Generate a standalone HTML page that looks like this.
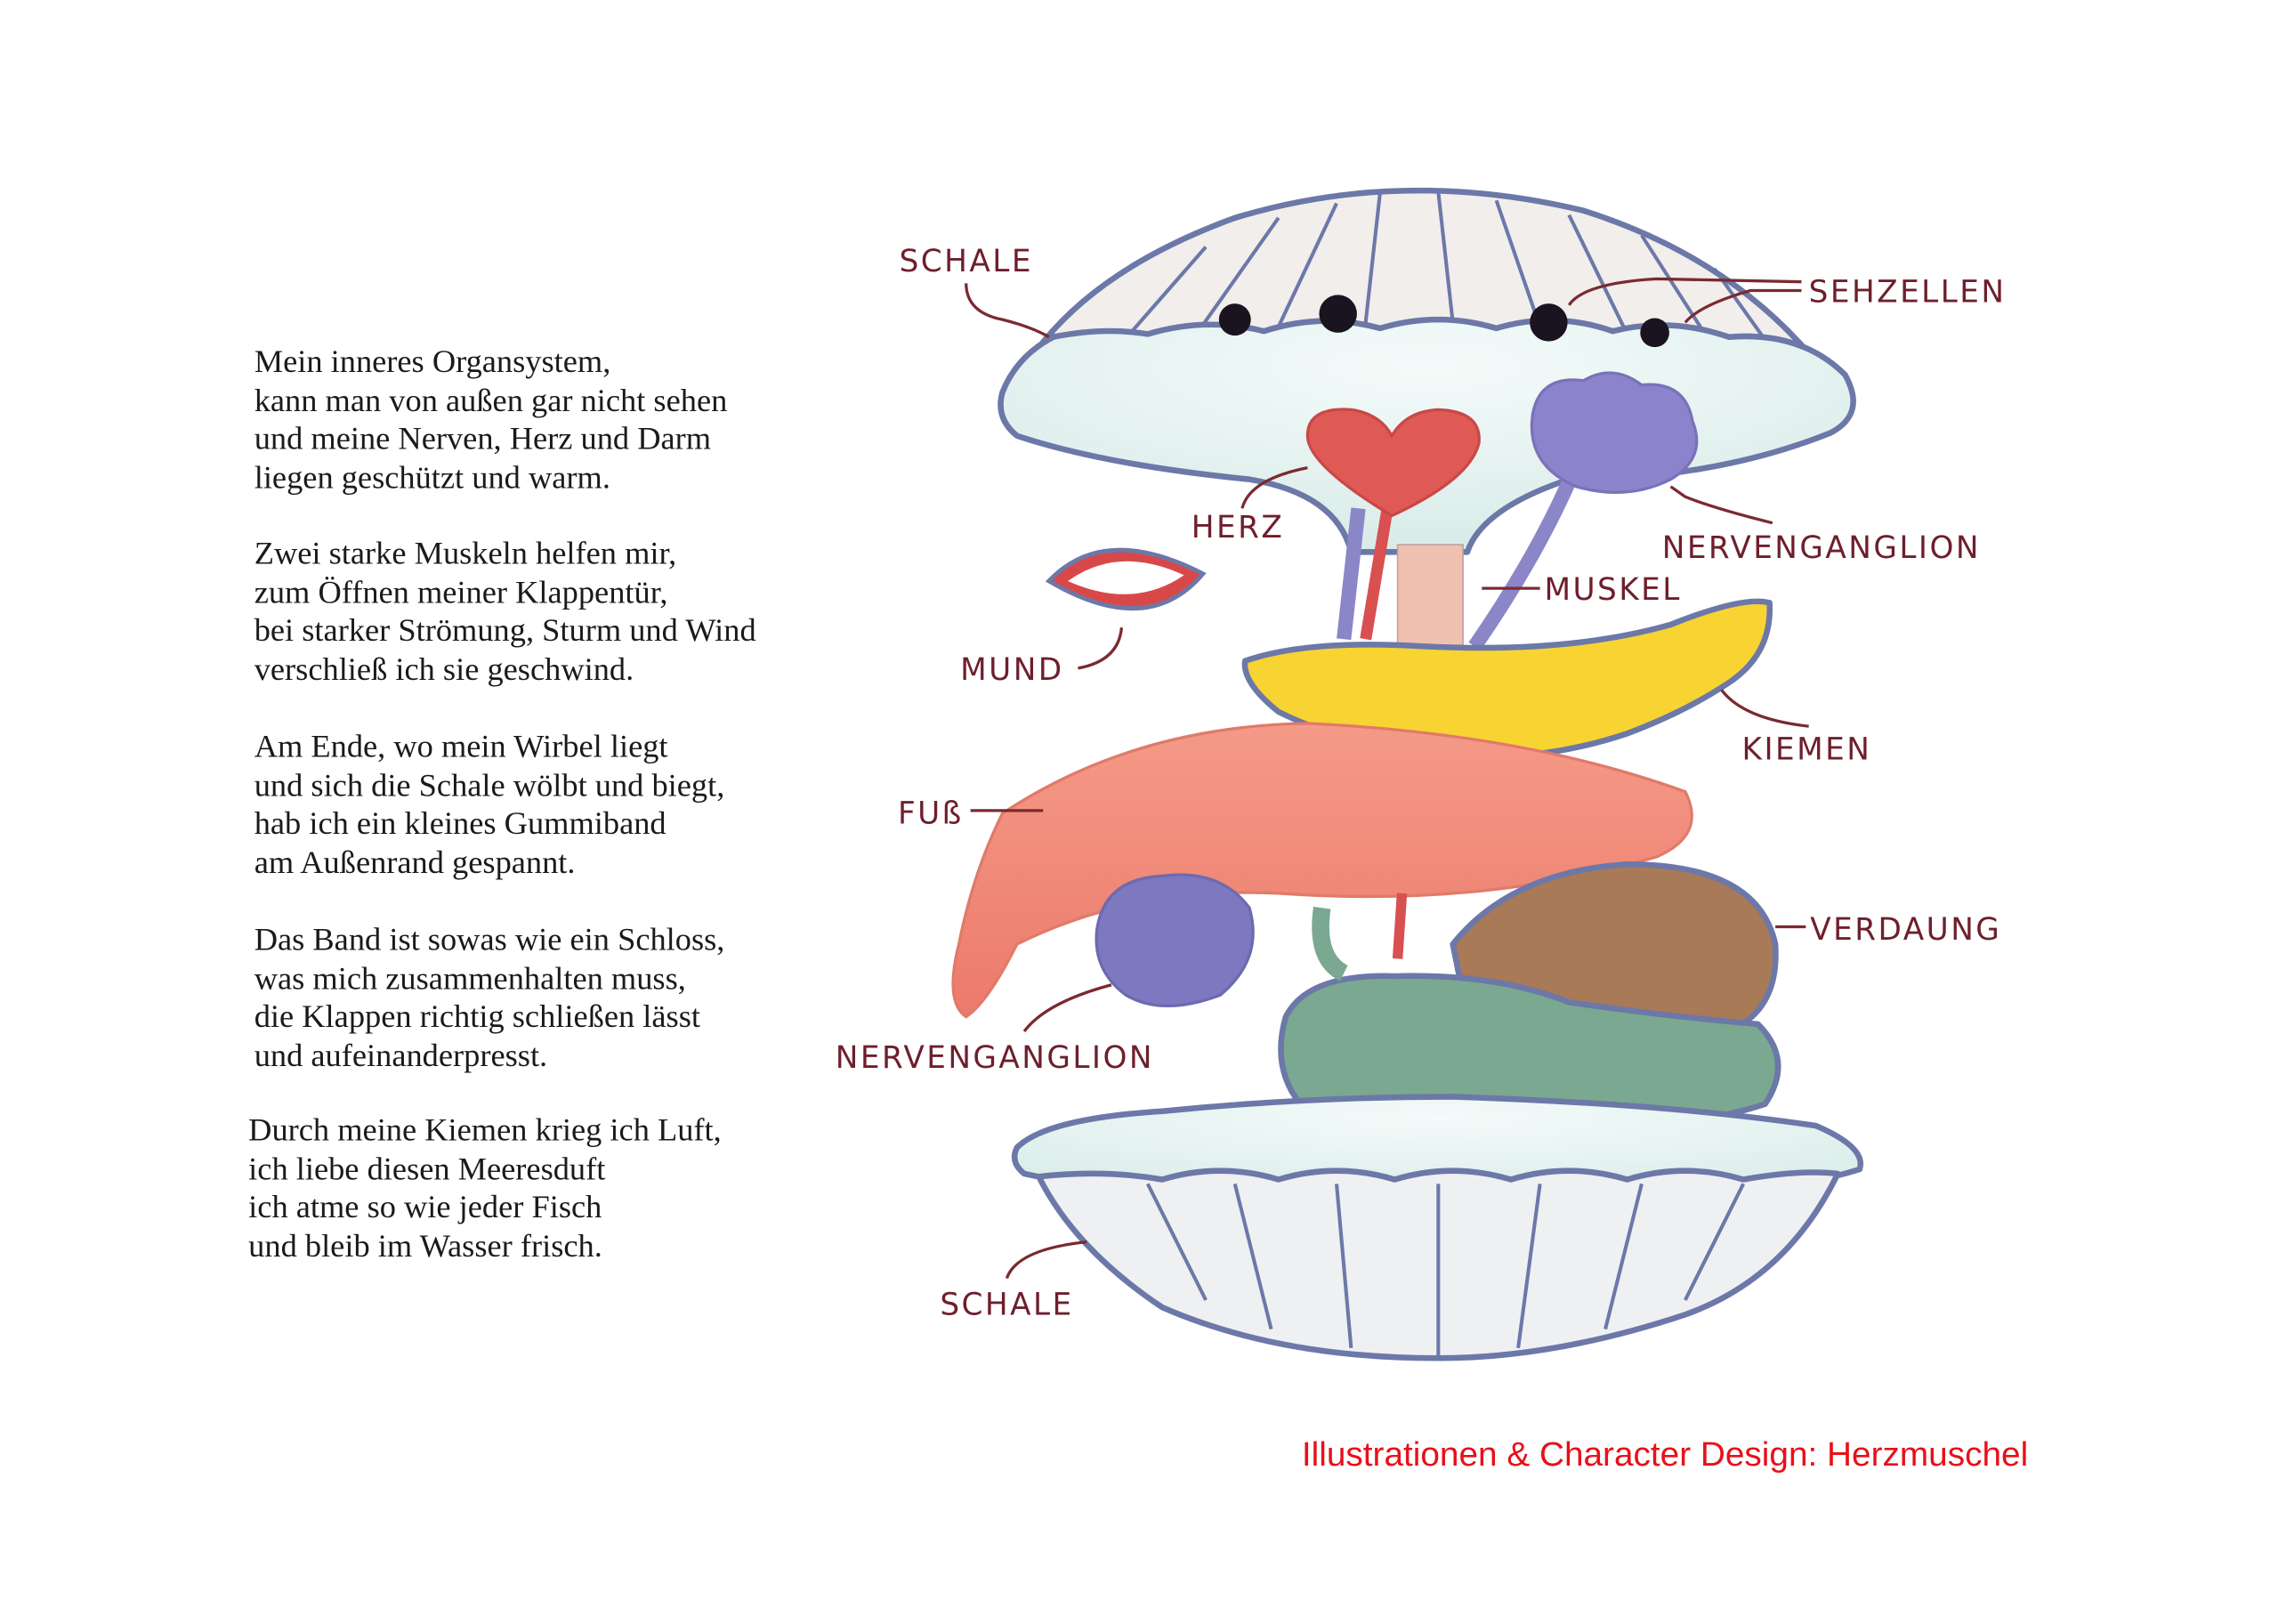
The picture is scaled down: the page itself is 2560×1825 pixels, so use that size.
<!DOCTYPE html>
<html><head><meta charset="utf-8"><style>
html,body{margin:0;padding:0;background:#fff;}
svg{display:block;width:2560px;height:1825px;}
.p{font-family:"Liberation Serif",serif;font-size:22.3px;fill:#1a1a1a;}
.l{font-family:"DejaVu Sans","Liberation Sans",sans-serif;font-size:21px;fill:#6e1f2c;letter-spacing:1.5px;}
.ln{fill:none;stroke:#7a2a30;stroke-width:2;}
.o{stroke:#6c78a8;stroke-width:4;stroke-linejoin:round;}
</style></head><body>
<svg viewBox="0 0 1568 1118" preserveAspectRatio="none" xmlns="http://www.w3.org/2000/svg">
<defs>
<radialGradient id="sh" cx="50%" cy="20%" r="80%"><stop offset="0" stop-color="#f4fbfa"/><stop offset="1" stop-color="#d8ebe8"/></radialGradient>
<linearGradient id="ft" x1="0" y1="0" x2="0" y2="1"><stop offset="0" stop-color="#f59a88"/><stop offset="1" stop-color="#ec7a6a"/></linearGradient>
</defs>
<rect width="1568" height="1118" fill="#fff"/>
<g class="p">
<text x="175" y="256">Mein inneres Organsystem,</text>
<text x="175" y="283">kann man von außen gar nicht sehen</text>
<text x="175" y="309">und meine Nerven, Herz und Darm</text>
<text x="175" y="336">liegen geschützt und warm.</text>
<text x="175" y="388">Zwei starke Muskeln helfen mir,</text>
<text x="175" y="415">zum Öffnen meiner Klappentür,</text>
<text x="175" y="441">bei starker Strömung, Sturm und Wind</text>
<text x="175" y="468">verschließ ich sie geschwind.</text>
<text x="175" y="521">Am Ende, wo mein Wirbel liegt</text>
<text x="175" y="548">und sich die Schale wölbt und biegt,</text>
<text x="175" y="574">hab ich ein kleines Gummiband</text>
<text x="175" y="601">am Außenrand gespannt.</text>
<text x="175" y="654">Das Band ist sowas wie ein Schloss,</text>
<text x="175" y="681">was mich zusammenhalten muss,</text>
<text x="175" y="707">die Klappen richtig schließen lässt</text>
<text x="175" y="734">und aufeinanderpresst.</text>
<text x="171" y="785">Durch meine Kiemen krieg ich Luft,</text>
<text x="171" y="812">ich liebe diesen Meeresduft</text>
<text x="171" y="838">ich atme so wie jeder Fisch</text>
<text x="171" y="865">und bleib im Wasser frisch.</text>
</g>
<text x="896" y="1009" font-family="Liberation Sans,sans-serif" font-size="23" fill="#e8101a" textLength="500" lengthAdjust="spacingAndGlyphs">Illustrationen &amp; Character Design: Herzmuschel</text>

<!-- top shell -->
<path class="o" fill="#f1eeec" d="M700,262 Q740,190 850,150 Q965,115 1090,145 Q1200,180 1260,262 Z"/>
<g stroke="#6c78a8" stroke-width="2.5" fill="none">
<path d="M760,250 L830,170"/><path d="M820,235 L880,150"/><path d="M880,225 L920,140"/><path d="M940,222 L950,132"/><path d="M1000,222 L990,132"/><path d="M1060,225 L1030,138"/><path d="M1120,230 L1080,148"/><path d="M1180,240 L1130,162"/><path d="M1230,255 L1180,185"/>
</g>
<path class="o" fill="url(#sh)" d="M690,270 Q700,245 725,232 Q760,225 790,230 Q830,218 870,228 Q910,215 950,226 Q990,214 1030,226 Q1070,214 1110,228 Q1150,218 1190,232 Q1240,228 1270,258 Q1285,285 1260,298 Q1180,330 1080,330 Q1020,350 1010,380 L930,380 Q920,340 860,330 Q760,320 700,300 Q685,288 690,270 Z"/>
<circle cx="850" cy="220" r="11" fill="#1a1420"/><circle cx="921" cy="216" r="13" fill="#1a1420"/><circle cx="1066" cy="222" r="13" fill="#1a1420"/><circle cx="1139" cy="229" r="10" fill="#1a1420"/>
<!-- vessels/muscle -->
<path d="M935,350 L925,440" stroke="#8a86c8" stroke-width="10" fill="none"/>
<path d="M955,350 L940,440" stroke="#d85050" stroke-width="8" fill="none"/>
<rect x="962" y="375" width="45" height="70" fill="#f0c0b0" stroke="#c0a0a0"/>
<path d="M1085,320 Q1060,380 1015,445" stroke="#8a86c8" stroke-width="10" fill="none"/>
<!-- heart -->
<path fill="#e05a55" stroke="#c84848" stroke-width="2" d="M958,355 Q900,320 900,300 Q900,280 930,282 Q950,285 958,300 Q968,283 990,282 Q1020,283 1018,305 Q1012,330 958,355 Z"/>
<!-- nerve ganglion top -->
<path fill="#8b84cc" stroke="#7a72b8" stroke-width="2" d="M1055,285 Q1060,258 1090,262 Q1110,250 1130,265 Q1160,262 1165,290 Q1175,315 1150,330 Q1120,345 1085,335 Q1050,320 1055,285 Z"/>
<!-- mouth -->
<path fill="#d84848" stroke="#6c78a8" stroke-width="3" d="M722,400 Q760,360 828,395 Q790,440 722,400 Z"/>
<path fill="#fff" d="M735,400 Q770,375 815,396 Q780,420 735,400 Z"/>
<!-- gills -->
<path class="o" fill="#f7d431" d="M857,455 Q900,440 980,445 Q1080,450 1150,430 Q1200,410 1218,415 Q1220,450 1190,470 Q1160,490 1120,505 Q1060,525 1000,520 Q930,515 880,490 Q855,470 857,455 Z"/>
<!-- foot -->
<path fill="url(#ft)" stroke="#e07a6a" stroke-width="2" d="M690,560 Q780,500 900,498 Q1050,505 1160,545 Q1175,575 1140,590 Q1020,625 880,615 Q780,610 700,650 Q680,690 665,700 Q650,690 660,650 Q670,600 690,560 Z"/>
<!-- lower ganglion -->
<path fill="#7e78c0" stroke="#6c6ab0" stroke-width="2" d="M755,640 Q760,605 800,603 Q840,598 860,625 Q870,660 840,685 Q800,700 775,685 Q752,668 755,640 Z"/>
<!-- digestion -->
<path class="o" fill="#a87a58" d="M1000,650 Q1040,600 1120,595 Q1210,595 1222,650 Q1225,695 1190,710 L1010,700 Z"/>
<path d="M965,615 L962,660" stroke="#d85050" stroke-width="7"/>
<!-- intestine -->
<path class="o" fill="#7aa890" d="M885,700 Q900,670 960,672 Q1030,670 1080,690 Q1150,700 1210,705 Q1235,730 1215,760 Q1170,775 1130,770 Q1080,775 1040,770 Q960,775 895,760 Q875,735 885,700 Z"/>
<path d="M910,625 Q905,660 925,670" stroke="#7aa890" stroke-width="12" fill="none"/>
<!-- bottom shell -->
<path class="o" fill="url(#sh)" d="M700,790 Q720,770 800,765 Q900,755 1000,755 Q1150,760 1250,775 Q1285,790 1280,805 Q1200,830 1000,830 Q780,825 705,808 Q695,800 700,790 Z"/>
<path class="o" fill="#eef0f2" d="M715,810 Q760,805 800,812 Q840,800 880,812 Q920,800 960,812 Q1000,800 1040,812 Q1080,800 1120,812 Q1160,800 1200,812 Q1240,805 1265,808 Q1230,880 1160,905 Q1070,935 990,935 Q880,935 800,900 Q740,860 715,810 Z"/>
<g stroke="#6c78a8" stroke-width="2.5" fill="none">
<path d="M790,815 L830,895"/><path d="M850,815 L875,915"/><path d="M920,815 L930,928"/><path d="M990,815 L990,933"/><path d="M1060,815 L1045,928"/><path d="M1130,815 L1105,915"/><path d="M1200,815 L1160,895"/>
</g>

<!-- labels -->
<g class="l">
<text x="619" y="187">SCHALE</text>
<text x="1245" y="208">SEHZELLEN</text>
<text x="820" y="370">HERZ</text>
<text x="1144" y="384">NERVENGANGLION</text>
<text x="1063" y="413">MUSKEL</text>
<text x="661" y="468">MUND</text>
<text x="1199" y="523">KIEMEN</text>
<text x="618" y="567">FUß</text>
<text x="1246" y="647">VERDAUNG</text>
<text x="575" y="735">NERVENGANGLION</text>
<text x="647" y="905">SCHALE</text>
</g>
<g class="ln">
<path d="M665,195 Q665,215 690,220 Q710,225 722,232"/>
<path d="M1240,194 L1140,192 Q1090,195 1080,210"/>
<path d="M1240,200 L1205,200 Q1170,210 1160,222"/>
<path d="M855,350 Q860,330 900,322"/>
<path d="M1220,360 Q1180,350 1160,342 L1150,335"/>
<path d="M1060,405 L1020,405"/>
<path d="M742,460 Q770,455 772,432"/>
<path d="M1245,500 Q1200,495 1185,475"/>
<path d="M668,558 L718,558"/>
<path d="M1243,638 L1222,638"/>
<path d="M705,710 Q720,690 765,678"/>
<path d="M693,880 Q700,860 748,855"/>
</g>
</svg>
</body></html>
